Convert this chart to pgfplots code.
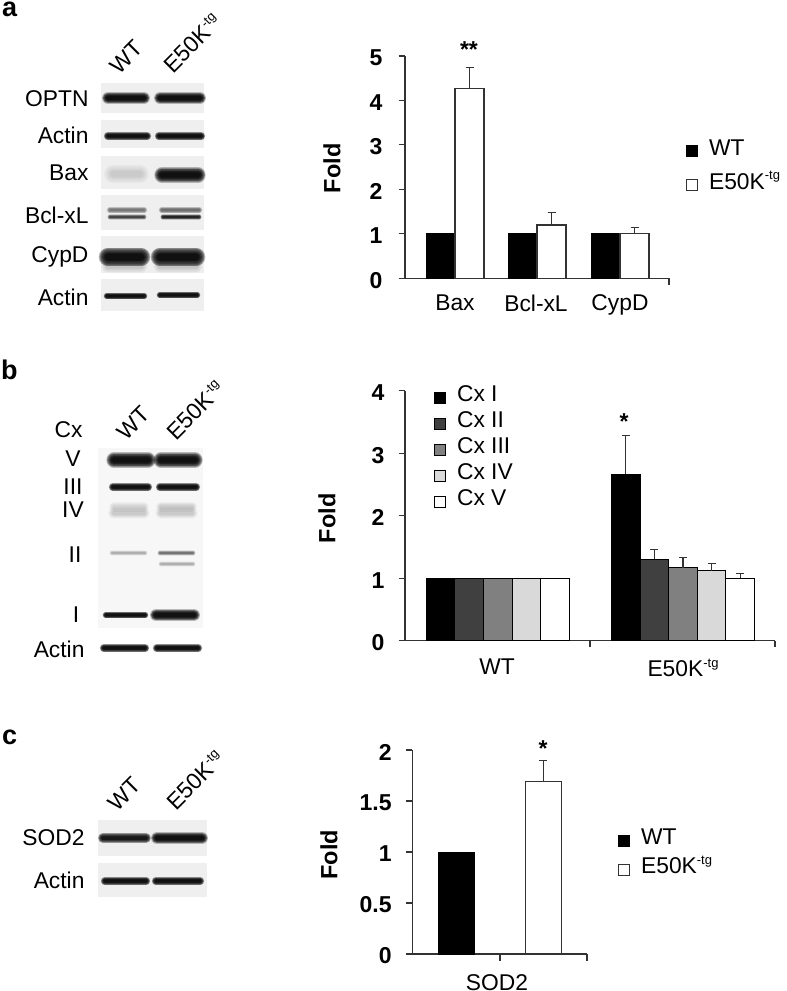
\documentclass[border=0pt]{standalone}
\usepackage{fontspec}
\setmainfont{Liberation Sans}
\usepackage{pgfplots}
\pgfplotsset{compat=1.18}

\definecolor{axc}{HTML}{333333}
\definecolor{bggray}{HTML}{EFEFEF}
\definecolor{bglight}{HTML}{F7F7F7}
\definecolor{cxii}{HTML}{404040}
\definecolor{cxiii}{HTML}{808080}
\definecolor{cxiv}{HTML}{D9D9D9}

\newcommand\lab{\fontsize{22.8}{26}\selectfont}
\newcommand\tg{E50K\raisebox{0.42em}{\fontsize{13}{14}\selectfont -tg}}
\newcommand\panel{\fontsize{27}{30}\bfseries\selectfont}

% blurred blot band: x1 x2 y width opacity
\newcommand\band[5]{%
  \addplot[black,opacity=#5,line cap=round,line width=#4*1.7pt] coordinates {(#1,#3) (#2,#3)};
  \addplot[black,opacity=#5,line cap=round,line width=#4*1.55pt] coordinates {(#1,#3) (#2,#3)};
  \addplot[black,opacity=#5,line cap=round,line width=#4*1.4pt] coordinates {(#1,#3) (#2,#3)};
  \addplot[black,opacity=#5,line cap=round,line width=#4*1.25pt] coordinates {(#1,#3) (#2,#3)};
  \addplot[black,opacity=#5,line cap=round,line width=#4*1.1pt] coordinates {(#1,#3) (#2,#3)};
  \addplot[black,opacity=#5,line cap=round,line width=#4*0.95pt] coordinates {(#1,#3) (#2,#3)};
  \addplot[black,opacity=#5,line cap=round,line width=#4*0.8pt] coordinates {(#1,#3) (#2,#3)};
  \addplot[black,opacity=#5,line cap=round,line width=#4*0.65pt] coordinates {(#1,#3) (#2,#3)};
  \addplot[black,opacity=#5,line cap=round,line width=#4*0.5pt] coordinates {(#1,#3) (#2,#3)};
}

\pgfplotsset{
  foldaxis/.style={
    scale only axis, clip=false,
    axis lines*=left, axis line style={-,draw=axc,line width=1.1pt},
    ymin=0,
    tick style={draw=axc,line width=1.1pt},
    major tick length=6.5pt,
    ytick align=outside, xtick align=inside,
    xticklabels={}, 
    extra x tick style={major tick length=0pt},
    /pgf/number format/assume math mode=true,
    y tick label style={font=\fontsize{23}{26}\bfseries\selectfont,inner sep=0pt,yshift=-2pt},
    x tick label style={font=\lab,inner sep=0pt},
    y label style={font=\fontsize{23.5}{26}\bfseries\selectfont,anchor=center,rotate=0},
    ylabel=Fold,
    ybar=0pt,
    error bars/y dir=plus, error bars/y explicit,
    error bars/error bar style={draw=axc,line width=1.1pt},
    error bars/error mark options={rotate=90,mark size=4pt,draw=axc,line width=1.1pt},
    legend image code/.code={\draw[#1,line width=1pt] (0pt,-5.5pt) rectangle (11pt,5.5pt);},
    legend style={draw=none,fill=none,inner sep=0pt,font=\lab,anchor=north west,
      cells={anchor=west},
      nodes={inner sep=0pt,text height=12pt,text depth=4pt},
      /tikz/every odd column/.style={column sep=11pt}},
  },
  wtbar/.style={draw=black,fill=black,line width=1pt},
  tgbar/.style={draw=axc,fill=white,line width=1.1pt},
}

\begin{document}
\begin{tikzpicture}
\path[fill=white,use as bounding box] (0pt,-991pt) rectangle (787pt,0pt);

% blots and their labels, in picture pixels
\begin{axis}[at={(0pt,-991pt)},anchor=south west,scale only axis,width=787pt,height=991pt,
  xmin=0,xmax=787,ymin=0,ymax=991,y dir=reverse,hide axis,clip=false]
% a
\fill[bggray] (axis cs:101,83) rectangle (axis cs:204,113);
\fill[bggray] (axis cs:101,120) rectangle (axis cs:204,148);
\fill[bggray] (axis cs:101,156) rectangle (axis cs:204,189);
\fill[bggray] (axis cs:101,195) rectangle (axis cs:204,230);
\fill[bggray] (axis cs:101,236) rectangle (axis cs:204,273);
\fill[bggray] (axis cs:101,279) rectangle (axis cs:204,311);
\band{108}{144}{98}{7}{0.25}
\band{160}{200}{98}{7}{0.25}
\band{108}{147}{136}{5}{0.25}
\band{159}{201}{136}{5}{0.25}
\band{113}{140}{174}{11}{0.016}
\band{162}{198}{175}{9}{0.25}
\band{110}{144}{210}{4}{0.07}
\band{110}{144}{217}{3}{0.12}
\band{162}{199}{210}{4}{0.08}
\band{163}{199}{217}{3}{0.18}
\band{108}{141}{257}{11}{0.25}
\band{160}{196}{257}{11}{0.25}
\band{108}{141}{266}{8}{0.02}
\band{160}{196}{266}{8}{0.02}
\band{107}{144}{296}{4}{0.25}
\band{160}{197}{295}{4}{0.25}
\node[anchor=east,font=\lab] at (axis cs:92,99) {OPTN};
\node[anchor=east,font=\lab] at (axis cs:92,135) {Actin};
\node[anchor=east,font=\lab] at (axis cs:92,173) {Bax};
\node[anchor=east,font=\lab] at (axis cs:92,215) {Bcl-xL};
\node[anchor=east,font=\lab] at (axis cs:92,257) {CypD};
\node[anchor=east,font=\lab] at (axis cs:92,297) {Actin};
\node[rotate=45,font=\lab] at (axis cs:126,57) {WT};
\node[rotate=45,font=\lab] at (axis cs:192,43) {\tg};
\node[anchor=base west,inner sep=0pt,font=\panel] at (axis cs:2,16) {a};
% b
\fill[bglight] (axis cs:98,448) rectangle (axis cs:203,628);
\band{114}{148}{460}{9}{0.25}
\band{161}{195}{460}{9}{0.25}
\band{113}{148}{487}{5}{0.25}
\band{160}{196}{487}{5}{0.25}
\band{114}{144}{507}{6}{0.015}
\band{114}{144}{513}{7}{0.02}
\band{161}{192}{507}{6}{0.018}
\band{161}{192}{513}{7}{0.02}
\band{112}{145}{553}{3}{0.035}
\band{160}{193}{553}{3}{0.08}
\band{161}{193}{564}{3}{0.035}
\band{106}{145}{615}{4}{0.25}
\band{156}{194}{615}{7}{0.25}
\band{104}{145}{648}{5}{0.25}
\band{157}{198}{648}{5}{0.25}
\node[anchor=east,font=\lab] at (axis cs:86,430) {Cx};
\node[font=\lab] at (axis cs:73,459) {V};
\node[font=\lab] at (axis cs:73,487) {III};
\node[font=\lab] at (axis cs:73,510) {IV};
\node[font=\lab] at (axis cs:75,555) {II};
\node[font=\lab] at (axis cs:76,615) {I};
\node[anchor=east,font=\lab] at (axis cs:88,649) {Actin};
\node[rotate=45,font=\lab] at (axis cs:133,423) {WT};
\node[rotate=45,font=\lab] at (axis cs:195,410) {\tg};
\node[anchor=base west,inner sep=0pt,font=\panel] at (axis cs:1,379) {b};
% c
\fill[bggray] (axis cs:98,820) rectangle (axis cs:207,856);
\fill[bggray] (axis cs:98,863) rectangle (axis cs:207,897);
\band{103}{146}{838}{6}{0.22}
\band{157}{202}{838}{7}{0.25}
\band{105}{146}{881}{5}{0.25}
\band{156}{200}{881}{5}{0.25}
\node[anchor=east,font=\lab] at (axis cs:88,838) {SOD2};
\node[anchor=east,font=\lab] at (axis cs:88,880) {Actin};
\node[rotate=45,font=\lab] at (axis cs:124,794) {WT};
\node[rotate=45,font=\lab] at (axis cs:195,780) {\tg};
\node[anchor=base west,inner sep=0pt,font=\panel] at (axis cs:2,744) {c};
\end{axis}

% a: bar chart
\begin{axis}[foldaxis,at={(405pt,-278.3pt)},anchor=south west,width=264pt,height=222.3pt,
  xmin=405,xmax=669,ymax=5,ytick={0,1,2,3,4,5},
  xtick={669},
  extra x ticks={455,536,620},extra x tick labels={Bax,Bcl-xL,CypD},
  bar width=29pt,
  yticklabel shift=16pt,xticklabel shift=16pt,
  y label style={at={(axis description cs:-0.277,0.495)}},
  legend style={at={(axis description cs:1.064,0.608)},row sep=18pt}]
\addplot[wtbar] coordinates {(455,1) (537,1) (620,1)};
\addlegendentry{WT}
\addplot[tgbar] coordinates {(455,4.27) +- (0,0.47) (537,1.2) +- (0,0.29) (620,1) +- (0,0.15)};
\addlegendentry{\tg}
\node[font=\fontsize{23}{26}\bfseries\selectfont] at (axis cs:469,5.15) {**};
\end{axis}

% b: complexes
\begin{axis}[foldaxis,at={(405pt,-640.7pt)},anchor=south west,width=370pt,height=250pt,
  xmin=405,xmax=775,ymax=4,ytick={0,1,2,3,4},
  xtick={590,775},
  extra x ticks={497,683},extra x tick labels={WT,\tg},
  bar width=28.6pt,
  yticklabel shift=14pt,xticklabel shift=18pt,
  y label style={at={(axis description cs:-0.211,0.49)}},
  legend style={at={(axis description cs:0.078,1.004)},row sep=10pt}]
\addplot[wtbar] coordinates {(497.7,1) (683,2.66) +- (0,0.625)};
\addlegendentry{Cx I}
\addplot[draw=black,fill=cxii,line width=1pt] coordinates {(497.7,1) (683,1.3) +- (0,0.16)};
\addlegendentry{Cx II}
\addplot[draw=black,fill=cxiii,line width=1pt] coordinates {(497.7,1) (683,1.17) +- (0,0.16)};
\addlegendentry{Cx III}
\addplot[draw=black,fill=cxiv,line width=1pt] coordinates {(497.7,1) (683,1.12) +- (0,0.11)};
\addlegendentry{Cx IV}
\addplot[draw=black,fill=white,line width=1pt] coordinates {(497.7,1) (683,1) +- (0,0.08)};
\addlegendentry{Cx V}
\node[font=\fontsize{23}{26}\bfseries\selectfont] at (axis cs:624,3.5) {*};
\end{axis}

% c: SOD2
\begin{axis}[foldaxis,at={(412.3pt,-954pt)},anchor=south west,width=174.7pt,height=204pt,
  xmin=412.3,xmax=587,ymax=2,ytick={0,0.5,1,1.5,2},
  yticklabel style={/pgf/number format/fixed},
  xtick={500,587},
  extra x ticks={497},extra x tick labels={SOD2},
  bar width=36pt,bar shift=0pt,
  yticklabel shift=14pt,xticklabel shift=20pt,
  y label style={at={(axis description cs:-0.477,0.487)}},
  legend style={at={(axis description cs:1.177,0.595)},row sep=13pt}]
\addplot[wtbar] coordinates {(456.3,1)};
\addlegendentry{WT}
\addplot[tgbar] coordinates {(543.2,1.69) +- (0,0.21)};
\addlegendentry{\tg}
\node[font=\fontsize{23}{26}\bfseries\selectfont] at (axis cs:543,2.01) {*};
\end{axis}
\end{tikzpicture}
\end{document}
